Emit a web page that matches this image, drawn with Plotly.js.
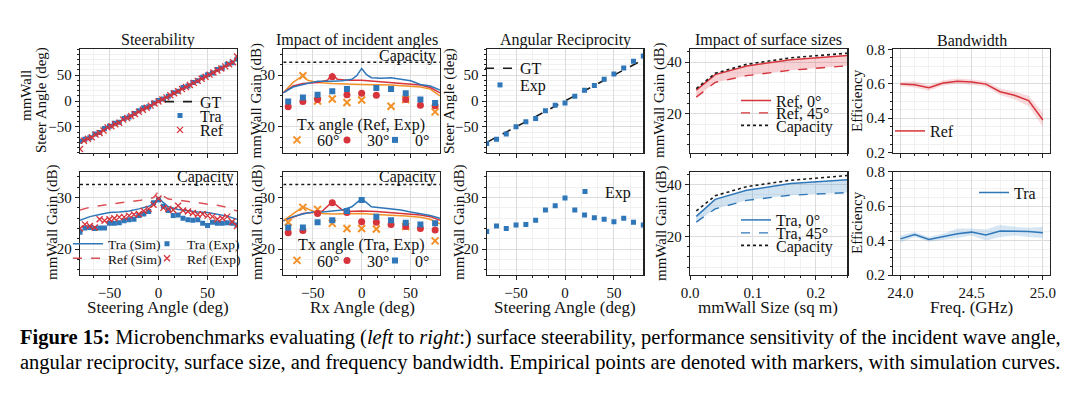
<!DOCTYPE html>
<html><head><meta charset="utf-8">
<script src="https://cdn.plot.ly/plotly-3.0.1.min.js"></script>
<style>html,body{margin:0;padding:0;background:#fff;}#chart{width:1086px;height:397px;}</style>
</head><body><div id="chart"></div>
<script>
// ---------------- DATA ----------------
// Panel 1 (Steerability)
const gtX = [-80, 80];
const gtY = [-80, 80];
const steerTraX = [-80,-75,-70,-65,-60,-55,-50,-45,-40,-35,-30,-25,-20,-15,-10,-5,0,5,10,15,20,25,30,35,40,45,50,55,60,65,70,75,80];
const steerTraY = [-78,-74,-71,-64,-61,-53,-49,-43,-41,-34,-31,-24,-19,-13,-11,-4,1,4,9,16,19,26,29,36,39,46,51,54,61,64,71,74,81];
const steerRefX = [-80,-76,-72,-68,-64,-60,-56,-52,-48,-44,-40,-36,-32,-28,-24,-20,-16,-12,-8,-4,0,4,8,12,16,20,24,28,32,36,40,44,48,52,56,60,64,68,72,76,80];
const steerRefY = [-93,-77,-73,-70,-65,-62,-57,-51,-49,-45,-42,-36,-33,-29,-25,-21,-17,-13,-9,-5,-1,3,7,11,15,19,23,27,31,35,39,43,47,51,55,59,63,67,71,75,86];
// Panel 1 bottom
const capacityX = [-80, 80];
const capacityGain = [32.5, 32.5];
const simX = [-80,-70,-60,-50,-40,-30,-20,-10,-5,0,5,10,20,30,40,50,60,70,80];
const traSim = [25.6,26.3,26.7,27.1,27.2,27.4,27.8,28.3,28.8,30.0,29.0,28.2,27.7,27.4,27.2,27.1,26.8,26.4,25.8];
const refSim = [27.6,28.1,28.4,28.7,29.0,29.2,29.4,29.7,30.0,31.2,30.3,29.7,29.5,29.3,29.0,28.7,28.5,28.1,27.4];
const expX = [-80,-75,-70,-65,-60,-55,-50,-45,-40,-35,-30,-25,-20,-15,-10,-5,0,5,10,15,20,25,30,35,40,45,50,55,60,65,70,75,80];
const traExp = [23.3,24.1,24.2,24.0,24.1,24.1,25.0,25.0,25.1,25.5,25.7,25.8,26.5,26.8,27.3,29.0,29.5,28.3,27.5,26.5,26.6,26.0,25.7,25.6,25.7,25.0,24.6,25.2,25.0,25.0,25.1,25.0,24.7];
const refExp = [24.0,24.8,24.5,24.2,25.8,25.5,25.8,26.0,26.2,26.2,26.5,26.7,26.8,27.4,27.8,28.6,29.8,28.0,27.8,27.6,28.4,27.5,27.3,27.0,26.7,26.8,26.5,26.3,25.8,26.0,26.3,25.3,24.5];
// Panel 2 (Impact of incident angles) - Ref (top)
const incRefSim0X = [-80,-70,-60,-45,-30,-20,-10,-5,0,5,10,20,30,40,50,60,70,80];
const incRefSim0 = [26.6,27.7,28.2,28.8,28.8,28.9,29.2,29.9,31.3,30.1,29.5,29.4,29.5,29.2,28.9,28.2,27.9,27.1];
const incRefSim30X = [-80,-70,-60,-45,-35,-30,-25,-15,0,15,30,45,60,70,80];
const incRefSim30 = [26.6,27.9,28.4,28.6,29.0,30.3,29.2,29.0,29.0,28.8,28.6,28.4,28.1,27.6,26.6];
const incRefSim60X = [-80,-70,-60,-55,-45,-30,0,30,45,60,70,80];
const incRefSim60 = [26.6,28.6,29.9,29.0,28.6,28.4,28.2,28.1,27.9,27.7,27.3,26.0];
const incRef0X = [-75,-60,-45,-30,-15,15,30,45,60,75];
const incRef0 = [24.9,25.7,26.2,26.9,27.3,27.5,27.3,26.5,25.3,24.6];
const incRef30X = [-75,-60,-45,-30,-15,0,15,45,60,75];
const incRef30 = [23.9,24.9,25.3,29.7,26.2,26.5,26.1,25.3,24.2,24.1];
const incRef60X = [-60,-45,-30,-15,0,30,45,75];
const incRef60 = [29.9,25.0,25.4,24.7,25.2,24.0,25.3,22.9];
// Panel 2 bottom - Tra
const incTraSim0X = [-80,-70,-60,-50,-40,-30,-20,-10,0,10,20,30,40,50,60,70,80];
const incTraSim0 = [25.5,26.3,26.8,27.2,27.2,27.4,27.6,28.2,29.8,28.2,28.0,27.8,27.6,27.2,26.9,26.5,26.0];
const incTraSim30X = [-80,-60,-50,-40,-30,-20,-15,0,15,30,45,60,70,80];
const incTraSim30 = [25.5,26.9,27.1,27.4,29.2,27.6,27.3,27.4,27.3,27.1,26.9,26.6,26.3,25.6];
const incTraSim60X = [-80,-70,-60,-50,-40,-30,-15,0,15,30,45,60,70,80];
const incTraSim60 = [25.5,26.9,28.2,27.4,26.9,26.8,26.8,26.9,26.7,26.6,26.4,26.2,25.8,24.9];
const incTraX = [-75,-60,-45,-30,-15,0,15,30,45,60,75];
const incTra0 = [24.2,24.2,25.2,25.6,27.4,29.5,26.3,25.6,25.1,24.8,25.0];
const incTra30 = [23.2,23.6,26.9,29.0,27.1,25.3,25.2,24.8,24.4,24.0,23.7];
const incTra60X = [-75,-60,-45,-30,-15,0,15,45,75];
const incTra60 = [25.2,28.1,27.7,25.0,24.0,24.0,23.9,24.4,21.6];
// Panel 3 (Angular Reciprocity)
const recipX = [-80,-70,-60,-50,-40,-30,-20,-10,0,10,20,30,40,50,60,70,80];
const recipSteer = [-82,-74,-64,-50,-40,-34,-19,-8,-4,9,21,30,42,52,64,77,87];
const recipGain = [23.4,24.5,24.0,24.7,24.8,25.6,27.6,28.4,29.9,27.6,26.6,26.1,25.8,25.3,26.0,25.2,24.7];
// Panel 4 (Impact of surface sizes)
const sizes = [0.01,0.04,0.09,0.16,0.25];
const sizeCapacity = [29.8,35.7,39.2,41.7,43.5];
const sizeRef0 = [29.2,35.2,38.5,41.0,42.6];
const sizeRef45 = [26.5,32.2,34.8,36.9,38.6];
const sizeTra0 = [27.7,34.3,37.8,40.4,41.9];
const sizeTra45 = [25.5,30.6,33.9,35.9,36.9];
// Panel 5 (Bandwidth)
const freq = [24.0,24.1,24.2,24.3,24.4,24.5,24.6,24.7,24.8,24.9,25.0];
const bwRef = [0.598,0.594,0.577,0.604,0.615,0.610,0.598,0.554,0.533,0.502,0.390];
const bwRefLo = [0.585,0.578,0.560,0.590,0.600,0.595,0.583,0.535,0.510,0.470,0.350];
const bwRefHi = [0.610,0.615,0.592,0.620,0.630,0.625,0.615,0.572,0.555,0.530,0.430];
const bwTra = [0.410,0.435,0.406,0.424,0.440,0.449,0.433,0.455,0.455,0.453,0.445];
const bwTraLo = [0.390,0.420,0.395,0.405,0.415,0.430,0.400,0.420,0.430,0.420,0.415];
const bwTraHi = [0.430,0.450,0.420,0.440,0.470,0.470,0.465,0.490,0.480,0.475,0.480];
// Ticks
const angleTicks = [-50,0,50];
const gainTicks = [20,30];
const sizeGainTicks = [20,40];
const sizeTicks = [0,0.1,0.2];
const sizeTickText = ['0.0','0.1','0.2'];
const freqTicks = [24.0,24.5,25.0];
const freqTickText = ['24.0','24.5','25.0'];
const effTicks = [0.2,0.4,0.6,0.8];
const effTickText = ['0.2','0.4','0.6','0.8'];

// ---------------- STYLE / LAYOUT ----------------
const W = 1086, H = 397;
const F = 'Liberation Serif, Times New Roman, serif';
const BLUE = '#2f77b9', RED = '#d6333a', ORANGE = '#f39129', BLACK = '#1a1a1a';
const colsPx = [[80,237],[283.3,440],[486.7,643.3],[690,847.3],[893.3,1050]];
const rowsPx = [[49.3,152.7],[171.7,275]];
const xd = c => [colsPx[c][0]/W, colsPx[c][1]/W];
const yd = r => [1-rowsPx[r][1]/H, 1-rowsPx[r][0]/H];

function axis(domain, range, tickvals, ticktext, minorD, showLabels, anchor) {
  const a = {
    domain, range, anchor, tickmode:'array', tickvals,
    showticklabels: showLabels,
    showline:true, mirror:true, linecolor:'#222', linewidth:1.2,
    ticks:'outside', ticklen:4, tickwidth:1, tickcolor:'#222',
    showgrid:true, gridcolor:'#dcdcdc', gridwidth:1, zeroline:false,
    tickfont:{family:F, size:15, color:'#111'}, fixedrange:true,
    minor:{tickmode:'linear', tick0:0, dtick:minorD, ticks:'outside', ticklen:2, tickwidth:1, tickcolor:'#222', showgrid:true, gridcolor:'#f1f1f1', gridwidth:1}
  };
  if (ticktext) a.ticktext = ticktext;
  return a;
}

function leg(xpx, ypx, size) {
  return {x:xpx/W, y:1-ypx/H, xref:'paper', yref:'paper', xanchor:'left', yanchor:'middle',
    bgcolor:'rgba(0,0,0,0)', borderwidth:0, font:{family:F, size:size||16, color:'#111'}, itemwidth:30, orientation:'v'};
}

const sq = (c, s) => ({symbol:'square', size:s||5, color:c});
const xm = (c, s, w) => ({symbol:'x-thin', size:s||6, color:c, line:{color:c, width:w||1.3}});
const hidden = {width:0, color:'rgba(0,0,0,0)'};

const traces = [
  // P1 top
  {x:gtX, y:gtY, xaxis:'x', yaxis:'y', mode:'lines', name:'GT', line:{color:BLACK, width:1.6, dash:'dash'}, legend:'legend'},
  {x:steerTraX, y:steerTraY, xaxis:'x', yaxis:'y', mode:'markers', name:'Tra', marker:sq(BLUE), legend:'legend2'},
  {x:steerRefX, y:steerRefY, xaxis:'x', yaxis:'y', mode:'markers', name:'Ref', marker:xm(RED), legend:'legend3'},
  // P1 bottom
  {x:capacityX, y:capacityGain, xaxis:'x6', yaxis:'y6', mode:'lines', line:{color:BLACK, width:1.5, dash:'dot'}, showlegend:false},
  {x:simX, y:traSim, xaxis:'x6', yaxis:'y6', mode:'lines', name:'Tra (Sim)', line:{color:BLUE, width:1.5}, legend:'legend4'},
  {x:simX, y:refSim, xaxis:'x6', yaxis:'y6', mode:'lines', name:'Ref (Sim)', line:{color:RED, width:1.5, dash:'dash'}, opacity:0.85, legend:'legend6'},
  {x:expX, y:traExp, xaxis:'x6', yaxis:'y6', mode:'markers', name:'Tra (Exp)', marker:sq(BLUE), legend:'legend5'},
  {x:expX, y:refExp, xaxis:'x6', yaxis:'y6', mode:'markers', name:'Ref (Exp)', marker:xm(RED), legend:'legend7'},
  // P2 top
  {x:capacityX, y:capacityGain, xaxis:'x2', yaxis:'y2', mode:'lines', line:{color:BLACK, width:1.5, dash:'dot'}, showlegend:false},
  {x:incRefSim60X, y:incRefSim60, xaxis:'x2', yaxis:'y2', mode:'lines', line:{color:ORANGE, width:1.5}, showlegend:false},
  {x:incRefSim30X, y:incRefSim30, xaxis:'x2', yaxis:'y2', mode:'lines', line:{color:RED, width:1.5}, showlegend:false},
  {x:incRefSim0X, y:incRefSim0, xaxis:'x2', yaxis:'y2', mode:'lines', line:{color:BLUE, width:1.5}, showlegend:false},
  {x:incRef60X, y:incRef60, xaxis:'x2', yaxis:'y2', mode:'markers', name:'60°', marker:xm(ORANGE,7,2), legend:'legend8'},
  {x:incRef30X, y:incRef30, xaxis:'x2', yaxis:'y2', mode:'markers', name:'30°', marker:{symbol:'circle', size:7, color:RED}, legend:'legend9'},
  {x:incRef0X, y:incRef0, xaxis:'x2', yaxis:'y2', mode:'markers', name:'0°', marker:sq(BLUE,6), legend:'legend10'},
  // P2 bottom
  {x:capacityX, y:capacityGain, xaxis:'x7', yaxis:'y7', mode:'lines', line:{color:BLACK, width:1.5, dash:'dot'}, showlegend:false},
  {x:incTraSim60X, y:incTraSim60, xaxis:'x7', yaxis:'y7', mode:'lines', line:{color:ORANGE, width:1.5}, showlegend:false},
  {x:incTraSim30X, y:incTraSim30, xaxis:'x7', yaxis:'y7', mode:'lines', line:{color:RED, width:1.5}, showlegend:false},
  {x:incTraSim0X, y:incTraSim0, xaxis:'x7', yaxis:'y7', mode:'lines', line:{color:BLUE, width:1.5}, showlegend:false},
  {x:incTra60X, y:incTra60, xaxis:'x7', yaxis:'y7', mode:'markers', name:'60°', marker:xm(ORANGE,7,2), legend:'legend11'},
  {x:incTraX, y:incTra30, xaxis:'x7', yaxis:'y7', mode:'markers', name:'30°', marker:{symbol:'circle', size:7, color:RED}, legend:'legend12'},
  {x:incTraX, y:incTra0, xaxis:'x7', yaxis:'y7', mode:'markers', name:'0°', marker:sq(BLUE,6), legend:'legend13'},
  // P3 top
  {x:gtX, y:gtY, xaxis:'x3', yaxis:'y3', mode:'lines', name:'GT', line:{color:BLACK, width:1.6, dash:'dash'}, legend:'legend14'},
  {x:recipX, y:recipSteer, xaxis:'x3', yaxis:'y3', mode:'markers', name:'Exp', marker:sq(BLUE), legend:'legend15'},
  // P3 bottom
  {x:recipX, y:recipGain, xaxis:'x8', yaxis:'y8', mode:'markers', name:'Exp', marker:sq(BLUE), legend:'legend16'},
  // P4 top
  {x:sizes, y:sizeRef45, xaxis:'x4', yaxis:'y4', mode:'lines', name:'Ref, 45°', line:{color:RED, width:1.4, dash:'dash'}, legend:'legend18'},
  {x:sizes, y:sizeRef0, xaxis:'x4', yaxis:'y4', mode:'lines', line:hidden, fill:'tonexty', fillcolor:'rgba(226,90,100,0.28)', showlegend:false},
  {x:sizes, y:sizeRef0, xaxis:'x4', yaxis:'y4', mode:'lines', name:'Ref, 0°', line:{color:RED, width:1.5}, legend:'legend17'},
  {x:sizes, y:sizeCapacity, xaxis:'x4', yaxis:'y4', mode:'lines', name:'Capacity', line:{color:BLACK, width:1.6, dash:'dot'}, legend:'legend19'},
  // P4 bottom
  {x:sizes, y:sizeTra45, xaxis:'x9', yaxis:'y9', mode:'lines', name:'Tra, 45°', line:{color:BLUE, width:1.4, dash:'dash'}, legend:'legend21'},
  {x:sizes, y:sizeTra0, xaxis:'x9', yaxis:'y9', mode:'lines', line:hidden, fill:'tonexty', fillcolor:'rgba(70,140,200,0.25)', showlegend:false},
  {x:sizes, y:sizeTra0, xaxis:'x9', yaxis:'y9', mode:'lines', name:'Tra, 0°', line:{color:BLUE, width:1.5}, legend:'legend20'},
  {x:sizes, y:sizeCapacity, xaxis:'x9', yaxis:'y9', mode:'lines', name:'Capacity', line:{color:BLACK, width:1.6, dash:'dot'}, legend:'legend22'},
  // P5 top
  {x:freq, y:bwRefLo, xaxis:'x5', yaxis:'y5', mode:'lines', line:hidden, showlegend:false},
  {x:freq, y:bwRefHi, xaxis:'x5', yaxis:'y5', mode:'lines', line:hidden, fill:'tonexty', fillcolor:'rgba(226,90,100,0.22)', showlegend:false},
  {x:freq, y:bwRef, xaxis:'x5', yaxis:'y5', mode:'lines', name:'Ref', line:{color:RED, width:1.5}, legend:'legend23'},
  // P5 bottom
  {x:freq, y:bwTraLo, xaxis:'x10', yaxis:'y10', mode:'lines', line:hidden, showlegend:false},
  {x:freq, y:bwTraHi, xaxis:'x10', yaxis:'y10', mode:'lines', line:hidden, fill:'tonexty', fillcolor:'rgba(70,140,200,0.22)', showlegend:false},
  {x:freq, y:bwTra, xaxis:'x10', yaxis:'y10', mode:'lines', name:'Tra', line:{color:BLUE, width:1.5}, legend:'legend24'}
];

const angR = [-80, 80], gainR = [15, 35], steerR = [-100, 100], sizeR = [0, 0.25], sizeGR = [5, 45], freqR = [23.95, 25.05], effR = [0.2, 0.8];

const layout = {
  width:W, height:H, margin:{l:0, r:0, t:0, b:0}, paper_bgcolor:'#fff', plot_bgcolor:'#fff',
  font:{family:F, size:15, color:'#111'}, showlegend:true,
  xaxis: axis(xd(0), angR, angleTicks, null, 50/3, false, 'y'),
  yaxis: axis(yd(0), steerR, angleTicks, null, 10, true, 'x'),
  xaxis2: axis(xd(1), angR, angleTicks, null, 50/3, false, 'y2'),
  yaxis2: axis(yd(0), gainR, gainTicks, null, 2, true, 'x2'),
  xaxis3: axis(xd(2), angR, angleTicks, null, 50/3, false, 'y3'),
  yaxis3: axis(yd(0), steerR, angleTicks, null, 10, true, 'x3'),
  xaxis4: axis(xd(3), sizeR, sizeTicks, sizeTickText, 0.025, false, 'y4'),
  yaxis4: axis(yd(0), sizeGR, sizeGainTicks, null, 4, true, 'x4'),
  xaxis5: axis(xd(4), freqR, freqTicks, freqTickText, 0.1, false, 'y5'),
  yaxis5: axis(yd(0), effR, effTicks, effTickText, 0.05, true, 'x5'),
  xaxis6: axis(xd(0), angR, angleTicks, null, 50/3, true, 'y6'),
  yaxis6: axis(yd(1), gainR, gainTicks, null, 2, true, 'x6'),
  xaxis7: axis(xd(1), angR, angleTicks, null, 50/3, true, 'y7'),
  yaxis7: axis(yd(1), gainR, gainTicks, null, 2, true, 'x7'),
  xaxis8: axis(xd(2), angR, angleTicks, null, 50/3, true, 'y8'),
  yaxis8: axis(yd(1), gainR, gainTicks, null, 2, true, 'x8'),
  xaxis9: axis(xd(3), sizeR, sizeTicks, sizeTickText, 0.025, true, 'y9'),
  yaxis9: axis(yd(1), sizeGR, sizeGainTicks, null, 4, true, 'x9'),
  xaxis10: axis(xd(4), freqR, freqTicks, freqTickText, 0.1, true, 'y10'),
  yaxis10: axis(yd(1), effR, effTicks, effTickText, 0.05, true, 'x10'),
  // P1 top
  legend: leg(160, 101.7), legend2: leg(160, 115.5), legend3: leg(160, 130),
  // P1 bottom
  legend4: leg(68, 244, 13.5), legend5: leg(147, 244, 13.5), legend6: leg(68, 258.5, 13.5), legend7: leg(147, 258.5, 13.5),
  // P2 top / bottom items
  legend8: leg(277, 140), legend9: leg(327, 140), legend10: leg(375, 140),
  legend11: leg(277, 260.5), legend12: leg(327, 260.5), legend13: leg(375, 260.5),
  // P3
  legend14: leg(480, 68.3), legend15: leg(480, 85),
  legend16: leg(565, 191.7),
  // P4
  legend17: leg(736, 100.5), legend18: leg(736, 113), legend19: leg(736, 125.5),
  legend20: leg(736, 220), legend21: leg(736, 233), legend22: leg(736, 245.5),
  // P5
  legend23: leg(890, 131),
  legend24: leg(974, 192.7),
  annotations: []
};

function ann(text, xpx, ypx, opts) {
  return Object.assign({text, x:xpx/W, y:1-ypx/H, xref:'paper', yref:'paper', showarrow:false,
    xanchor:'center', yanchor:'middle', font:{family:F, size:16, color:'#111'}}, opts||{});
}
const A = layout.annotations;
// Panel titles
A.push(ann('Steerability', 158, 40));
A.push(ann('Impact of incident angles', 357, 40));
A.push(ann('Angular Reciprocity', 565, 40));
A.push(ann('Impact of surface sizes', 768, 40));
A.push(ann('Bandwidth', 972, 40));
// Y titles
const rot = {textangle:-90, font:{family:F, size:15, color:'#111'}};
A.push(ann('mmWall', 26, 96, rot));
A.push(ann('Steer Angle (deg)', 41, 100, rot));
A.push(ann('mmWall Gain (dB)', 52, 223, rot));
A.push(ann('mmWall Gain (dB)', 256.5, 101, rot));
A.push(ann('mmWall Gain (dB)', 257, 223, rot));
A.push(ann('Steer Angle (deg)', 450, 101, rot));
A.push(ann('mmWall Gain (dB)', 459, 223, rot));
A.push(ann('mmWall Gain (dB)', 660, 101, rot));
A.push(ann('mmWall Gain (dB)', 661, 223, rot));
A.push(ann('Efficiency', 857, 101, rot));
A.push(ann('Efficiency', 857, 223, rot));
// X titles
const xt = {font:{family:F, size:17, color:'#111'}};
A.push(ann('Steering Angle (deg)', 158, 307, xt));
A.push(ann('Rx Angle (deg)', 362, 307, xt));
A.push(ann('Steering Angle (deg)', 565, 307, xt));
A.push(ann('mmWall Size (sq m)', 768, 307, xt));
A.push(ann('Freq. (GHz)', 971, 307, xt));
// Capacity labels
A.push(ann('Capacity', 235.5, 177, {xanchor:'right'}));
A.push(ann('Capacity', 438, 56, {xanchor:'right'}));
A.push(ann('Capacity', 438, 177, {xanchor:'right'}));
// Legend titles (P2)
A.push(ann('Tx angle (Ref, Exp)', 361, 125));
A.push(ann('Tx angle (Tra, Exp)', 361, 245));
// Caption
const cap = {xanchor:'left', font:{family:F, size:20.5, color:'#000'}};
A.push(ann('<b>Figure 15:</b> Microbenchmarks evaluating (<i>left</i> to <i>right</i>:) surface steerability, performance sensitivity of the incident wave angle,', 18, 337, cap));
A.push(ann('angular reciprocity, surface size, and frequency bandwidth. Empirical points are denoted with markers, with simulation curves.', 18, 362, cap));

Plotly.newPlot('chart', traces, layout, {displayModeBar:false, staticPlot:true});
</script></body></html>
